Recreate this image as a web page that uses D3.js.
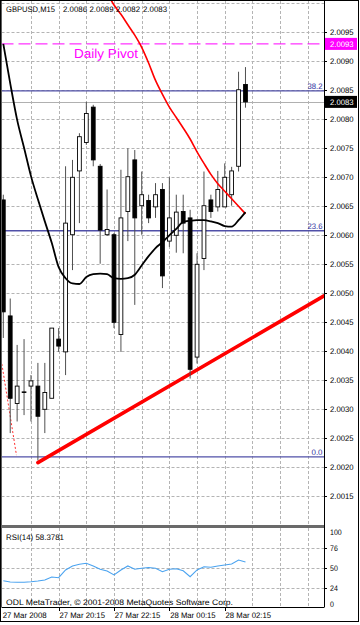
<!DOCTYPE html>
<html>
<head>
<meta charset="utf-8">
<script src="https://cdn.jsdelivr.net/npm/d3@7"></script>
<style>
  body { margin: 0; background: #fff; }
  text { font-family: "Liberation Sans", Arial, sans-serif; text-rendering: geometricPrecision; }
</style>
</head>
<body>
<div class="chart"></div>
<script>
// GBPUSD M15 bars, 27 Mar 2008 18:15 .. 28 Mar 03:00
const times = ["18:15","18:30","18:45","19:00","19:15","19:30","19:45","20:00","20:15","20:30",
  "20:45","21:00","21:15","21:30","21:45","22:00","22:15","22:30","22:45","23:00",
  "23:15","23:30","23:45","00:00","00:15","00:30","00:45","01:00","01:15","01:30",
  "01:45","02:00","02:15","02:30","02:45","03:00"];
const open = [2.00661,2.00461,2.00310,2.00330,2.00340,2.00340,2.00300,2.00319,2.00421,2.00399,
  2.00601,2.00711,2.00760,2.00821,2.00719,2.00601,2.00601,2.00429,2.00641,2.00730,
  2.00651,2.00660,2.00649,2.00679,2.00590,2.00600,2.00641,2.00630,2.00390,2.00560,
  2.00661,2.00649,2.00649,2.00670,2.00719,2.00860];
const high = [2.00670,2.00491,2.00411,2.00421,2.00359,2.00380,2.00380,2.00440,2.00440,2.00719,
  2.00730,2.00776,2.00830,2.00825,2.00723,2.00679,2.00604,2.00713,2.00750,2.00747,
  2.00710,2.00670,2.00690,2.00690,2.00700,2.00670,2.00670,2.00644,2.00569,2.00710,
  2.00670,2.00711,2.00724,2.00718,2.00882,2.00890];
const low = [2.00423,2.00259,2.00279,2.00290,2.00279,2.00212,2.00259,2.00319,2.00399,2.00359,
  2.00540,2.00621,2.00756,2.00719,2.00551,2.00599,2.00440,2.00399,2.00590,2.00480,
  2.00601,2.00621,2.00630,2.00509,2.00580,2.00570,2.00569,2.00353,2.00379,2.00540,
  2.00630,2.00641,2.00649,2.00651,2.00710,2.00820];
const close = [2.00468,2.00319,2.00340,2.00329,2.00349,2.00288,2.00329,2.00440,2.00409,2.00621,
  2.00700,2.00770,2.00810,2.00730,2.00609,2.00610,2.00450,2.00630,2.00701,2.00630,
  2.00670,2.00630,2.00670,2.00530,2.00630,2.00640,2.00621,2.00369,2.00550,2.00651,
  2.00641,2.00679,2.00700,2.00711,2.00851,2.00830];
// moving averages
const maBlack = [2.00930,2.00862,2.00799,2.00751,2.00702,2.00662,2.00624,2.00587,2.00545,2.00526,
  2.00517,2.00516,2.00528,2.00533,2.00534,2.00533,2.00526,2.00525,2.00526,2.00532,
  2.00548,2.00564,2.00578,2.00588,2.00600,2.00611,2.00623,2.00625,2.00626,2.00626,
  2.00624,2.00621,2.00616,2.00615,2.00626,2.00640];
const maRed = [null,null,null,null,null,null,null,null,null,null,
  null,null,null,null,null,2.01018,2.00997,2.00981,2.00963,2.00945,
  2.00924,2.00897,2.00867,2.00843,2.00821,2.00803,2.00785,2.00766,2.00744,2.00724,
  2.00705,2.00689,2.00676,2.00663,2.00650,2.00637];
const rsi = [33.9,32.2,31.9,31.9,32.5,33.5,34.8,38.8,37.8,47.9,
  53.1,55.4,56.6,53.1,48.8,46.6,41.4,47.9,53.1,48.8,
  50.1,51.1,50.1,45.6,48.8,49.5,46.9,39.1,47.9,52.1,
  51.4,53.1,54.4,55.7,60.9,58.3781];

const priceTicks = [2.0015,2.0020,2.0025,2.0030,2.0035,2.0040,2.0045,2.0050,2.0055,
  2.0060,2.0065,2.0070,2.0075,2.0080,2.0085,2.0090,2.0095];
const priceGrid = [2.0010, ...priceTicks, 2.0100];
const gridBars = [4,8,12,16,20,24,28,32,36,40,44];
const timeTickBars = [0,8,16,24,32];
const timeTickLabels = ["27 Mar 2008","27 Mar 20:15","27 Mar 22:15","28 Mar 00:15","28 Mar 02:15"];
const rsiLevels = [76,50,24];
const rsiLabels = ["100","76","50","24","0"];
const header = ["GBPUSD,M15","2.0086","2.0089","2.0082","2.0083"];

const pivot = 2.0093, bid = 2.0083;
const fibLow = 2.00218, fibHigh = 2.01870;
const fibLevels = [0, 23.6, 38.2];
const trendBars = [5, 27], trendPrices = [2.00208, 2.00361];
const dotBars = [-0.3, 1.9], dotPrices = [2.00385, 2.00221];

const W = 360, H = 625;
const left = 1.5, right = 324, mainTop = 1, mainBottom = 525, rsiTop = 528, rsiBottom = 607;

const svg = d3.select(".chart").append("svg")
    .attr("width", W)
    .attr("height", H)
    .style("display", "block");

svg.append("rect").attr("width", W).attr("height", H).attr("fill", "#fff");

const x = d3.scaleLinear().domain([0, 36]).range([3.3, 252.4]);
const y = d3.scaleLinear().domain([2.0015, 2.0095]).range([496.3, 32.3]);
const yr = d3.scaleLinear().domain([0, 100]).range([606.8, 529.9]);
const barAtRight = x.invert(right);

// squeeze text to the width measured on the original screenshot
function fit(sel, len) {
  sel.attr("textLength", len).attr("lengthAdjust", "spacingAndGlyphs");
}

const defs = svg.append("defs");
defs.append("clipPath").attr("id", "clipMain")
  .append("rect").attr("x", left).attr("y", mainTop).attr("width", right - left).attr("height", mainBottom - mainTop);
defs.append("clipPath").attr("id", "clipRsi")
  .append("rect").attr("x", left).attr("y", rsiTop).attr("width", right - left).attr("height", rsiBottom - rsiTop);

const main = svg.append("g").attr("clip-path", "url(#clipMain)");
const sub = svg.append("g").attr("clip-path", "url(#clipRsi)");

// grid
const gridStyle = sel => sel.attr("stroke", "#b4b4b4").attr("stroke-width", 1).attr("stroke-dasharray", "3,2");
main.selectAll(".hgrid").data(priceGrid).join("line")
    .attr("x1", left).attr("x2", right)
    .attr("y1", d => Math.round(y(d)) + 0.5).attr("y2", d => Math.round(y(d)) + 0.5)
    .call(gridStyle);
main.selectAll(".vgrid").data(gridBars).join("line")
    .attr("x1", d => Math.round(x(d)) + 0.5).attr("x2", d => Math.round(x(d)) + 0.5)
    .attr("y1", mainTop).attr("y2", mainBottom)
    .call(gridStyle);
sub.selectAll(".vgrid").data(gridBars).join("line")
    .attr("x1", d => Math.round(x(d)) + 0.5).attr("x2", d => Math.round(x(d)) + 0.5)
    .attr("y1", rsiTop).attr("y2", rsiBottom)
    .call(gridStyle);
sub.selectAll(".rgrid").data(rsiLevels).join("line")
    .attr("x1", left).attr("x2", right)
    .attr("y1", d => Math.round(yr(d)) + 0.5).attr("y2", d => Math.round(yr(d)) + 0.5)
    .call(gridStyle);

// bid line
main.append("line")
    .attr("x1", left).attr("x2", right)
    .attr("y1", Math.round(y(bid)) + 0.5).attr("y2", Math.round(y(bid)) + 0.5)
    .attr("stroke", "#b0b0b0");

// fibonacci levels
const fibPrice = l => fibLow + l / 100 * (fibHigh - fibLow);
main.selectAll(".fib").data(fibLevels).join("line")
    .attr("x1", left).attr("x2", right)
    .attr("y1", d => y(fibPrice(d))).attr("y2", d => y(fibPrice(d)))
    .attr("stroke", "#5050a8").attr("stroke-width", 1.4);
main.selectAll(".fibtxt").data(fibLevels).join("text")
    .attr("x", d => d === 0 ? 311.5 : 307.5).attr("y", d => y(fibPrice(d)) - 2)
    .attr("font-size", 8).attr("fill", "#3030a0")
    .attr("textLength", d => d === 0 ? 11 : 15).attr("lengthAdjust", "spacingAndGlyphs")
    .text(d => d.toFixed(1));

// daily pivot
main.append("line")
    .attr("x1", left).attr("x2", right)
    .attr("y1", y(pivot)).attr("y2", y(pivot))
    .attr("stroke", "#ff00ff").attr("stroke-width", 1).attr("stroke-dasharray", "12,5");
main.append("text")
    .attr("x", 74).attr("y", 57.5)
    .attr("font-size", 13).attr("fill", "#ff00ff")
    .call(fit, 64)
    .text("Daily Pivot");

// dotted red line
main.append("line")
    .attr("x1", x(dotBars[0])).attr("y1", y(dotPrices[0]))
    .attr("x2", x(dotBars[1])).attr("y2", y(dotPrices[1]))
    .attr("stroke", "#ff3030").attr("stroke-width", 1).attr("stroke-dasharray", "2,2");

// red trend line (ray)
const slope = (trendPrices[1] - trendPrices[0]) / (trendBars[1] - trendBars[0]);
main.append("line")
    .attr("x1", x(trendBars[0])).attr("y1", y(trendPrices[0]))
    .attr("x2", x(barAtRight)).attr("y2", y(trendPrices[0] + slope * (barAtRight - trendBars[0])))
    .attr("stroke", "#ff0000").attr("stroke-width", 3.6).attr("stroke-linecap", "round");

// candles
const bars = times.map((t, i) => ({ i, t, o: open[i], h: high[i], l: low[i], c: close[i] }));
main.selectAll(".wick").data(bars).join("line")
    .attr("x1", d => x(d.i)).attr("x2", d => x(d.i))
    .attr("y1", d => y(d.h)).attr("y2", d => y(d.l))
    .attr("stroke", "#505050").attr("stroke-width", 1);
main.selectAll(".body").data(bars).join("rect")
    .attr("x", d => x(d.i) - 1.9)
    .attr("width", 3.8)
    .attr("y", d => y(Math.max(d.o, d.c)))
    .attr("height", d => Math.max(0.6, Math.abs(y(d.o) - y(d.c))))
    .attr("fill", d => d.c >= d.o ? "#fff" : "#000")
    .attr("stroke", "#000").attr("stroke-width", 0.9);

// moving averages
const line = d3.line().defined(d => d != null).x((d, i) => x(i)).y(d => y(d)).curve(d3.curveMonotoneX);
main.append("path").datum(maRed)
    .attr("fill", "none").attr("stroke", "#ff0000").attr("stroke-width", 1.6)
    .attr("d", line);
main.append("path").datum(maBlack)
    .attr("fill", "none").attr("stroke", "#000").attr("stroke-width", 1.8)
    .attr("d", line);

// RSI
sub.append("path").datum(rsi)
    .attr("fill", "none").attr("stroke", "#4aa3f0").attr("stroke-width", 1.1)
    .attr("d", d3.line().x((d, i) => x(i)).y(d => yr(d)));

// frames
svg.append("line").attr("x1", left).attr("x2", left).attr("y1", 0).attr("y2", rsiBottom)
    .attr("stroke", "#606060").attr("stroke-width", 1);
svg.append("line").attr("x1", right + 0.5).attr("x2", right + 0.5).attr("y1", 0).attr("y2", rsiBottom)
    .attr("stroke", "#000").attr("stroke-width", 1);
svg.append("rect").attr("x", left).attr("y", mainBottom).attr("width", right - left).attr("height", 3)
    .attr("fill", "#6a6a6a");
svg.append("line").attr("x1", left).attr("x2", right + 0.5).attr("y1", rsiBottom + 0.5).attr("y2", rsiBottom + 0.5)
    .attr("stroke", "#000");

// price axis
const axisG = svg.append("g");
axisG.selectAll(".ptick").data(priceTicks).join("line")
    .attr("x1", right).attr("x2", right + 3)
    .attr("y1", d => Math.round(y(d)) + 0.5).attr("y2", d => Math.round(y(d)) + 0.5)
    .attr("stroke", "#000");
axisG.selectAll(".plabel").data(priceTicks).join("text")
    .attr("x", 330).attr("y", d => y(d) + 3)
    .attr("font-size", 8).attr("fill", "#000")
    .call(fit, 23.5)
    .text(d => d.toFixed(4));

function priceBox(p, fill) {
  axisG.append("rect").attr("x", 325).attr("y", y(p) - 6).attr("width", 32).attr("height", 12).attr("fill", fill);
  axisG.append("text").attr("x", 330).attr("y", y(p) + 3)
      .attr("font-size", 8).attr("fill", "#fff").call(fit, 23.5).text(p.toFixed(4));
}
priceBox(pivot, "#ff00ff");
priceBox(bid, "#000");

// RSI axis
const rsiLabelPos = [97, 76, 50, 24, 3];
axisG.selectAll(".rlabel").data(rsiLabels).join("text")
    .attr("x", 330).attr("y", (d, i) => yr(rsiLabelPos[i]) + 3)
    .attr("font-size", 8).attr("fill", "#000")
    .attr("textLength", d => d.length * 3.9).attr("lengthAdjust", "spacingAndGlyphs")
    .text(d => d);
axisG.selectAll(".rtick").data(rsiLevels).join("line")
    .attr("x1", right).attr("x2", right + 3)
    .attr("y1", d => Math.round(yr(d)) + 0.5).attr("y2", d => Math.round(yr(d)) + 0.5)
    .attr("stroke", "#000");

// time axis
svg.selectAll(".ttick").data(timeTickBars.slice(1)).join("line")
    .attr("x1", d => Math.round(x(d)) + 0.5).attr("x2", d => Math.round(x(d)) + 0.5)
    .attr("y1", rsiBottom).attr("y2", rsiBottom + 4)
    .attr("stroke", "#000");
svg.selectAll(".tlabel").data(timeTickBars).join("text")
    .attr("x", (d, i) => i === 0 ? 2.7 : x(d) + 0.8)
    .attr("y", 617.5)
    .attr("font-size", 8).attr("fill", "#000")
    .attr("textLength", (d, i) => i === 0 ? 44 : 45.5).attr("lengthAdjust", "spacingAndGlyphs")
    .text((d, i) => timeTickLabels[i]);

// texts
const headerX = [6, 63, 89.5, 116, 143];
svg.selectAll(".hdr").data(header).join("text")
    .attr("x", (d, i) => headerX[i]).attr("y", 11.5)
    .attr("font-size", 8).attr("fill", "#000")
    .attr("textLength", (d, i) => i === 0 ? 49 : 24).attr("lengthAdjust", "spacingAndGlyphs")
    .text(d => d);
svg.append("text").attr("x", 6).attr("y", 539.5).attr("font-size", 8).attr("fill", "#000")
    .call(fit, 58)
    .text("RSI(14) 58.3781");
svg.append("text").attr("x", 6).attr("y", 605).attr("font-size", 8).attr("fill", "#000")
    .call(fit, 227)
    .text("ODL MetaTrader, © 2001-2008 MetaQuotes Software Corp.");

// outer frame
svg.append("rect").attr("x", 0.5).attr("y", 0.5).attr("width", W - 2).attr("height", H - 4)
    .attr("fill", "none").attr("stroke", "#000");
</script>
</body>
</html>
